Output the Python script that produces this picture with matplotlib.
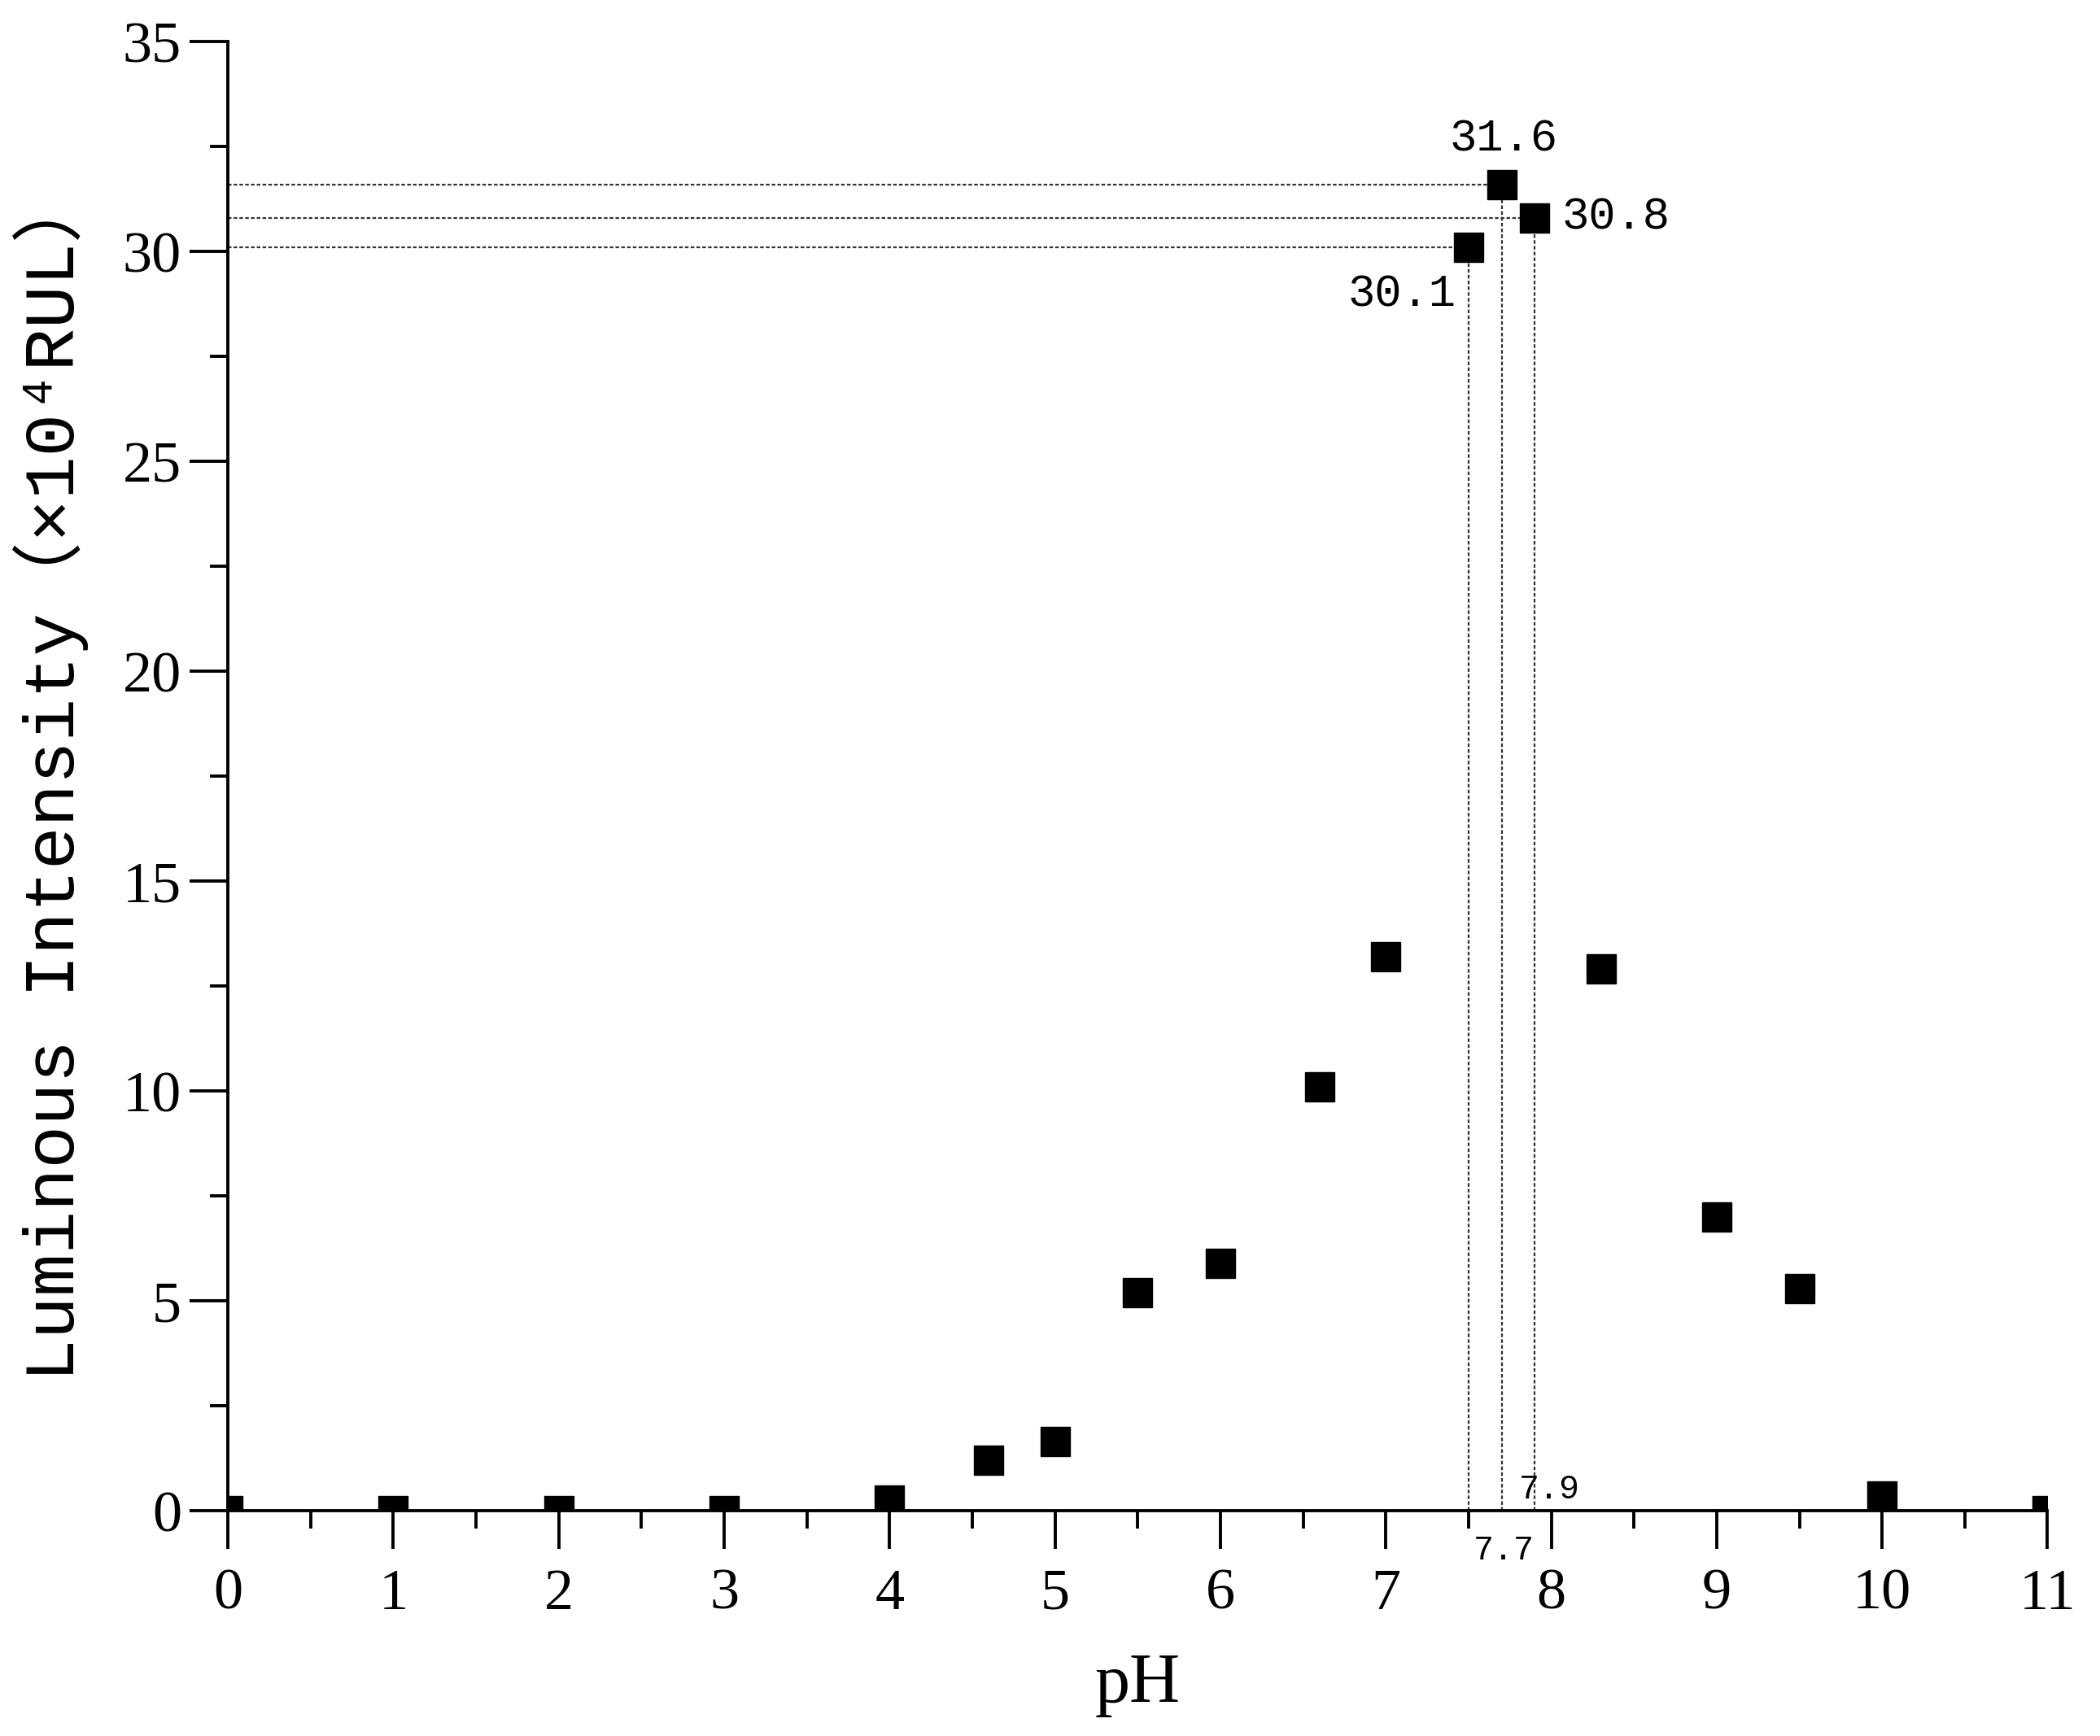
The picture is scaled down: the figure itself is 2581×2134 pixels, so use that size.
import matplotlib
matplotlib.use("Agg")
import matplotlib.pyplot as plt
from matplotlib.ticker import MultipleLocator

# pH sweep and luminous intensity (x10^4 RUL)
ph = [0, 1, 2, 3, 4, 4.6, 5, 5.5, 6, 6.6, 7, 7.5, 7.7, 7.9, 8.3, 9, 9.5, 10, 11]
intensity = [0, 0, 0, 0, 0.25, 1.2, 1.65, 5.2, 5.9, 10.1, 13.2, 30.1, 31.6, 30.8, 12.9, 7.0, 5.3, 0.35, 0]

# the three peak points marked with guide lines
peak_ph = [7.5, 7.7, 7.9]
peak_val = [30.1, 31.6, 30.8]
peak_labels = ["30.1", "31.6", "30.8"]
ph_labels = ["7.5", "7.7", "7.9"]

serif = "Liberation Serif"
mono = ["Liberation Mono", "Noto Sans CJK SC", "DejaVu Sans"]

fig = plt.figure(figsize=(25.81, 21.34), dpi=100)
ax = fig.add_axes([0.1085, 0.1298, 0.8665, 0.8462])

# dotted guide lines from the axes to each peak point
for x, y in zip(peak_ph, peak_val):
  ax.plot([0, x], [y, y], color="#333333", lw=1.6, ls=(0, (2, 1.2)), zorder=1)
  ax.plot([x, x], [0, y], color="#333333", lw=1.6, ls=(0, (2, 1.2)), zorder=1)

ax.plot(ph, intensity, ls="none", marker="s", ms=26, color="black", zorder=3)

ax.set_xlim(0, 11)
ax.set_ylim(0, 35)
ax.xaxis.set_major_locator(MultipleLocator(1))
ax.xaxis.set_minor_locator(MultipleLocator(0.5))
ax.yaxis.set_major_locator(MultipleLocator(5))
ax.yaxis.set_minor_locator(MultipleLocator(2.5))

for s in ["top", "right"]:
  ax.spines[s].set_visible(False)
for s in ["left", "bottom"]:
  ax.spines[s].set_linewidth(2.8)

ax.tick_params(which="major", direction="out", length=34, width=2.8)
ax.tick_params(which="minor", direction="out", length=16, width=2.8)
ax.tick_params(axis="x", which="major", pad=17)
ax.tick_params(axis="y", which="major", pad=7)
for lab in ax.get_xticklabels() + ax.get_yticklabels():
  lab.set_fontfamily(serif)
  lab.set_fontsize(52)

ax.set_xlabel("pH", fontfamily=serif, fontsize=62, labelpad=28)
ax.set_ylabel("Luminous Intensity（×10⁴RUL）", fontfamily=mono, fontsize=63, labelpad=30)

# value labels next to the peak points
ann = dict(textcoords="offset points", fontfamily=mono, fontsize=40)
ax.annotate(peak_labels[1], (peak_ph[1], peak_val[1]), xytext=(2, 40), ha="center", va="center", **ann)
ax.annotate(peak_labels[2], (peak_ph[2], peak_val[2]), xytext=(24, 0), ha="left", va="center", **ann)
ax.annotate(peak_labels[0], (peak_ph[0], peak_val[0]), xytext=(-11, -42), ha="right", va="center", **ann)

# pH labels at the foot of the guide lines
small = dict(textcoords="offset points", fontfamily=mono, fontsize=30, annotation_clip=False)
ax.annotate(ph_labels[1], (peak_ph[1], 0), xytext=(2, -35), ha="center", va="center", **small)
ax.annotate(ph_labels[2], (peak_ph[2], 0), xytext=(13, 19), ha="center", va="center", **small)

fig.savefig("out.png", dpi=100)
